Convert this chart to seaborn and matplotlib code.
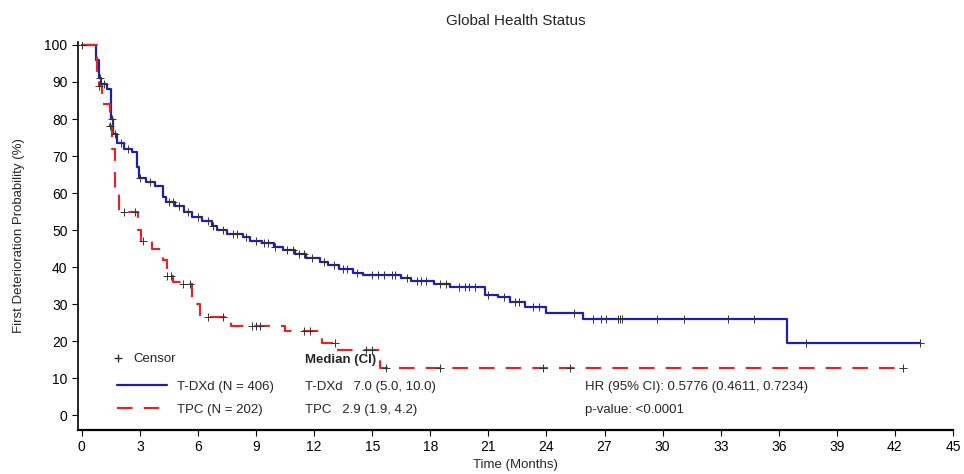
import numpy as np
import pandas as pd
import matplotlib
matplotlib.use("Agg")
import matplotlib.pyplot as plt
from matplotlib.lines import Line2D
import seaborn as sns

# ── Data ──────────────────────────────────────────────────────
# T-DXd: step times (months) and deterioration-free probability (%)
tdxd_time = [0, 0.75, 0.9, 1.0, 1.3, 1.5, 1.6, 1.8, 2.2, 2.6, 2.85, 2.95, 3.3, 3.8,
             4.2, 4.35, 4.8, 5.3, 5.7, 6.2, 6.7, 7.0, 7.5, 8.3, 8.7, 9.3, 9.9,
             10.4, 11.0, 11.6, 12.3, 12.7, 13.3, 14.0, 14.5, 16.5, 17.0, 18.2,
             19.0, 20.8, 21.5, 22.1, 22.9, 24.0, 25.9, 36.4, 43.3]
tdxd_surv = [100, 96, 91, 89.5, 88, 80, 76, 73.5, 72, 71, 67, 64, 63, 62,
             59, 57.5, 56.5, 55, 53.5, 52.5, 51, 50, 49, 48, 47, 46.5, 45.5,
             44.5, 43.5, 42.5, 41.5, 40.5, 39.5, 38.5, 37.8, 37.0, 36.2, 35.5,
             34.5, 32.5, 31.8, 30.5, 29.2, 27.6, 25.9, 19.5, 19.5]
tdxd_censor = [0.95, 1.15, 1.55, 1.7, 2.0, 2.4, 3.0, 3.5, 4.5, 4.7, 5.0, 5.5,
               6.0, 6.5, 6.8, 7.3, 7.8, 8.0, 8.5, 9.0, 9.4, 9.6, 10.0, 10.6,
               10.9, 11.2, 11.5, 11.9, 12.5, 13.0, 13.5, 13.7, 14.2, 15.0, 15.3,
               15.6, 16.0, 16.2, 16.8, 17.3, 17.5, 17.8, 18.5, 18.8, 19.5, 19.8,
               20.0, 20.3, 21.0, 21.8, 22.4, 22.6, 23.3, 23.6, 25.4, 26.4, 26.8,
               27.1, 27.7, 27.8, 27.9, 29.7, 31.1, 33.4, 34.7, 37.4, 43.3]

# TPC
tpc_time = [0, 0.8, 0.9, 1.05, 1.45, 1.55, 1.7, 1.9, 2.9, 3.05, 3.6, 4.2, 4.4,
            4.7, 5.1, 5.7, 6.1, 7.7, 10.5, 12.4, 13.2, 15.4, 42.4]
tpc_surv = [100, 93, 89, 84, 78, 72, 61, 55, 50, 47, 45, 42, 37.5,
            36, 35.5, 30, 26.5, 24, 22.7, 19.5, 17.6, 12.7, 12.7]
tpc_censor = [0.0, 0.9, 1.45, 2.2, 2.75, 3.15, 4.4, 4.6, 5.2, 5.6, 6.5, 7.3,
              8.8, 9.0, 9.2, 11.5, 11.8, 13.1, 14.7, 15.0, 15.7, 18.5, 23.8,
              25.2, 42.4]

arm_labels = ["T-DXd (N = 406)", "TPC (N = 202)"]
median_lines = ["T-DXd   7.0 (5.0, 10.0)", "TPC   2.9 (1.9, 4.2)"]
hr_lines = ["HR (95% CI): 0.5776 (0.4611, 0.7234)", "p-value: <0.0001"]
x_ticks = list(range(0, 46, 3))
y_ticks = list(range(0, 101, 10))

BLUE = "#1f1fa8"
RED = "#d42a2a"

def censor_y(times, surv, cens):
    idx = np.searchsorted(np.array(times), np.array(cens), side="right") - 1
    return np.array(surv)[idx]

km = pd.concat([
    pd.DataFrame({"time": tdxd_time, "surv": tdxd_surv, "arm": arm_labels[0]}),
    pd.DataFrame({"time": tpc_time, "surv": tpc_surv, "arm": arm_labels[1]}),
])
cens = pd.concat([
    pd.DataFrame({"time": tdxd_censor,
                  "surv": censor_y(tdxd_time, tdxd_surv, tdxd_censor)}),
    pd.DataFrame({"time": tpc_censor,
                  "surv": censor_y(tpc_time, tpc_surv, tpc_censor)}),
])

# ── Plot ──────────────────────────────────────────────────────
sns.set_style("white")
plt.rcParams["font.family"] = ["Liberation Sans", "DejaVu Sans"]

fig = plt.figure(figsize=(9.64, 4.74), dpi=100)
ax = fig.add_axes([0.0809, 0.0928, 0.9077, 0.8186])

sns.lineplot(data=km[km["arm"] == arm_labels[0]], x="time", y="surv",
             estimator=None, sort=False, drawstyle="steps-post",
             color=BLUE, linewidth=1.6, ax=ax)
sns.lineplot(data=km[km["arm"] == arm_labels[1]], x="time", y="surv",
             estimator=None, sort=False, drawstyle="steps-post",
             color=RED, linewidth=1.6, ax=ax)
ax.lines[-1].set_dashes([7, 5])
sns.scatterplot(data=cens, x="time", y="surv", marker="+", color="#333333",
                s=26, linewidth=0.7, ax=ax, zorder=3, legend=False)

ax.set_xlim(-0.2, 45)
ax.set_ylim(-4, 100.8)
ax.set_xticks(x_ticks)
ax.set_yticks(y_ticks)
ax.tick_params(axis="both", direction="out", length=4, width=0.8,
               labelsize=10, colors="black", bottom=True, left=True)
for s in ["top", "right"]:
    ax.spines[s].set_visible(False)
ax.spines["left"].set_linewidth(1.2)
ax.spines["bottom"].set_linewidth(1.6)
ax.spines["left"].set_color("black")
ax.spines["bottom"].set_color("black")

ax.set_xlabel("Time (Months)", fontsize=9.5, labelpad=3)
ax.set_ylabel("First Deterioration Probability (%)", fontsize=9.5, labelpad=14)
ax.set_title("Global Health Status", fontsize=11, pad=12)

# legends
h_lines = [Line2D([], [], color=BLUE, linewidth=1.6),
           Line2D([], [], color=RED, linewidth=1.6, dashes=[7, 5])]
leg1 = ax.legend(h_lines, arm_labels, loc="upper left",
                 bbox_to_anchor=(0.038, 0.141), frameon=False, fontsize=9.5,
                 handlelength=3.8, handletextpad=0.8, labelspacing=0.8,
                 borderaxespad=0)
ax.add_artist(leg1)
h_cens = [Line2D([], [], color="#333333", marker="+", linestyle="none",
                 markersize=6, markeredgewidth=1)]
ax.legend(h_cens, ["Censor"], loc="upper left", bbox_to_anchor=(0.032, 0.212),
          frameon=False, fontsize=9.5, handlelength=1, handletextpad=0.7,
          borderaxespad=0)

ax.text(0.259, 0.181, "Median (CI)", transform=ax.transAxes, fontsize=9.5,
        fontweight="bold", va="center")
for i, txt in enumerate(median_lines):
    ax.text(0.259, 0.110 - i * 0.059, txt, transform=ax.transAxes,
            fontsize=9.5, va="center")
for i, txt in enumerate(hr_lines):
    ax.text(0.579, 0.110 - i * 0.059, txt, transform=ax.transAxes,
            fontsize=9.5, va="center")

fig.savefig("out.png", dpi=100)
plt.close(fig)
